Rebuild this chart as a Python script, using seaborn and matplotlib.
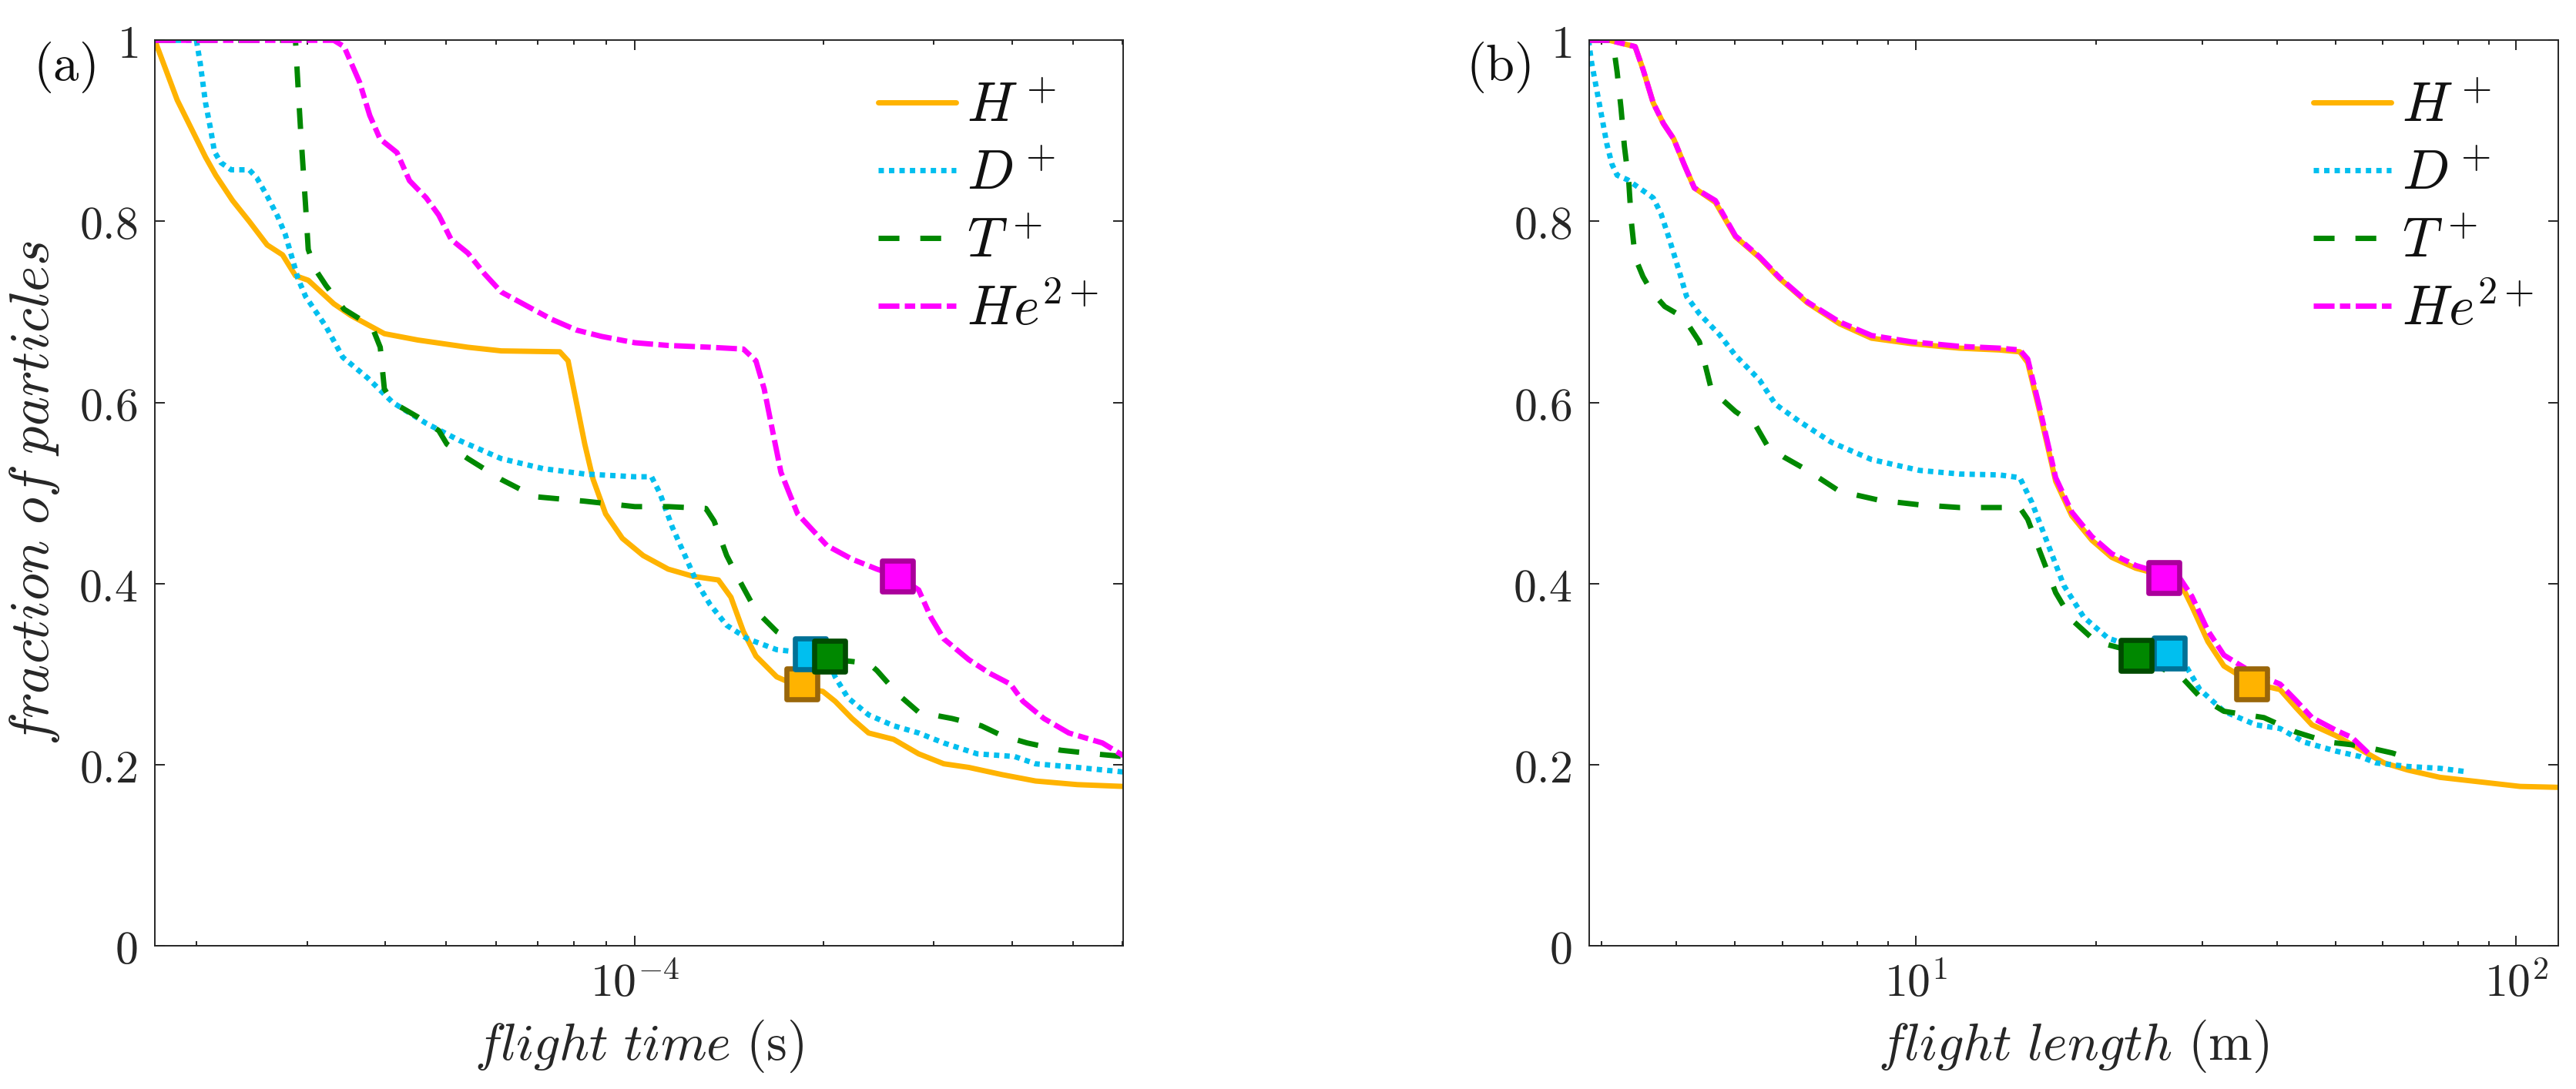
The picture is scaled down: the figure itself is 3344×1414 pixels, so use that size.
import numpy as np
import pandas as pd
import matplotlib
matplotlib.use("Agg")
import matplotlib.pyplot as plt
import seaborn as sns
from matplotlib.ticker import LogLocator, NullFormatter

# ---- (a) fraction of particles vs flight time (s) ----
H_t = [1.715e-5, 1.862e-5, 2.066e-5, 2.145e-5, 2.282e-5, 2.426e-5, 2.591e-5, 2.742e-5, 2.875e-5,
       3.013e-5, 3.310e-5, 3.526e-5, 3.985e-5, 4.505e-5, 5.416e-5, 6.122e-5, 7.591e-5, 7.825e-5,
       8.069e-5, 8.320e-5, 8.579e-5, 8.982e-5, 9.550e-5, 1.031e-4, 1.130e-4, 1.239e-4, 1.359e-4,
       1.423e-4, 1.490e-4, 1.560e-4, 1.684e-4, 1.846e-4, 1.994e-4, 2.087e-4, 2.220e-4, 2.360e-4,
       2.587e-4, 2.836e-4, 3.110e-4, 3.409e-4, 3.854e-4, 4.356e-4, 5.078e-4, 6.012e-4]
H_ft = [1.0, 0.934, 0.871, 0.851, 0.823, 0.800, 0.774, 0.763, 0.740, 0.735, 0.709, 0.696, 0.676,
        0.669, 0.661, 0.657, 0.656, 0.646, 0.600, 0.554, 0.515, 0.477, 0.450, 0.431, 0.416, 0.408,
        0.404, 0.385, 0.347, 0.320, 0.297, 0.285, 0.281, 0.270, 0.251, 0.235, 0.228, 0.212, 0.201,
        0.197, 0.189, 0.182, 0.178, 0.176]

D_t = [1.715e-5, 1.998e-5, 2.027e-5, 2.066e-5, 2.105e-5, 2.135e-5, 2.185e-5, 2.270e-5, 2.426e-5,
       2.495e-5, 2.591e-5, 2.691e-5, 2.768e-5, 2.847e-5, 2.901e-5, 2.984e-5, 3.215e-5, 3.420e-5,
       3.749e-5, 4.110e-5, 4.647e-5, 5.253e-5, 6.122e-5, 7.136e-5, 8.320e-5, 1.0e-4, 1.063e-4,
       1.096e-4, 1.148e-4, 1.202e-4, 1.258e-4, 1.318e-4, 1.401e-4, 1.513e-4, 1.684e-4, 1.846e-4,
       2.025e-4, 2.087e-4, 2.186e-4, 2.360e-4, 2.587e-4, 2.836e-4, 3.110e-4, 3.516e-4, 4.035e-4,
       4.356e-4, 5.078e-4, 6.012e-4]
D_ft = [1.0, 1.0, 0.974, 0.931, 0.902, 0.877, 0.865, 0.857, 0.857, 0.848, 0.828, 0.806, 0.786,
        0.757, 0.737, 0.717, 0.684, 0.650, 0.627, 0.600, 0.577, 0.558, 0.538, 0.527, 0.521, 0.518,
        0.518, 0.500, 0.462, 0.431, 0.400, 0.377, 0.354, 0.339, 0.327, 0.324, 0.320, 0.297, 0.274,
        0.255, 0.243, 0.235, 0.224, 0.212, 0.209, 0.201, 0.197, 0.192]

T_t = [1.715e-5, 2.875e-5, 2.901e-5, 2.929e-5, 2.956e-5, 2.984e-5, 3.013e-5, 3.099e-5, 3.217e-5,
       3.437e-5, 3.807e-5, 3.925e-5, 3.985e-5, 4.110e-5, 4.505e-5, 4.866e-5, 5.014e-5, 5.416e-5,
       6.122e-5, 6.921e-5, 8.320e-5, 1.0e-4, 1.130e-4, 1.298e-4, 1.338e-4, 1.401e-4, 1.467e-4,
       1.560e-4, 1.684e-4, 1.846e-4, 2.025e-4, 2.087e-4, 2.360e-4, 2.433e-4, 2.627e-4, 2.836e-4,
       3.206e-4, 3.569e-4, 3.854e-4, 4.225e-4, 4.776e-4, 5.401e-4, 6.012e-4]
T_ft = [1.0, 1.0, 0.951, 0.902, 0.860, 0.817, 0.769, 0.746, 0.729, 0.703, 0.684, 0.661, 0.615,
        0.600, 0.584, 0.569, 0.554, 0.538, 0.515, 0.496, 0.491, 0.485, 0.485, 0.483, 0.469, 0.431,
        0.404, 0.370, 0.347, 0.331, 0.320, 0.316, 0.312, 0.304, 0.278, 0.258, 0.251, 0.243, 0.232,
        0.224, 0.216, 0.212, 0.209]

He_t = [1.715e-5, 3.310e-5, 3.437e-5, 3.637e-5, 3.777e-5, 3.923e-5, 4.174e-5, 4.370e-5, 4.647e-5,
        4.866e-5, 5.093e-5, 5.416e-5, 5.758e-5, 6.122e-5, 6.711e-5, 7.359e-5, 8.069e-5, 8.846e-5,
        1.0e-4, 1.130e-4, 1.318e-4, 1.490e-4, 1.560e-4, 1.608e-4, 1.658e-4, 1.710e-4, 1.763e-4,
        1.818e-4, 1.904e-4, 2.025e-4, 2.220e-4, 2.433e-4, 2.627e-4, 2.836e-4, 2.970e-4, 3.110e-4,
        3.409e-4, 3.680e-4, 3.973e-4, 4.160e-4, 4.493e-4, 4.924e-4, 5.569e-4, 6.012e-4]
He_ft = [1.0, 1.0, 0.993, 0.954, 0.917, 0.891, 0.876, 0.845, 0.826, 0.807, 0.780, 0.765, 0.742,
         0.722, 0.707, 0.692, 0.680, 0.673, 0.666, 0.663, 0.661, 0.659, 0.646, 0.615, 0.569, 0.523,
         0.500, 0.477, 0.462, 0.442, 0.427, 0.416, 0.408, 0.393, 0.362, 0.339, 0.316, 0.301, 0.289,
         0.270, 0.251, 0.235, 0.224, 0.210]

# ---- (b) fraction of particles vs flight length (m) ----
H_l = [2.854, 3.092, 3.412, 3.516, 3.656, 3.803, 3.956, 4.116, 4.281, 4.642, 5.012, 5.495, 5.934,
       6.607, 7.468, 8.446, 9.848, 11.84, 13.80, 14.91, 15.37, 16.09, 17.11, 18.20, 19.65, 21.21,
       23.26, 25.50, 27.54, 28.84, 30.67, 32.61, 36.31, 40.44, 42.99, 45.71, 50.12, 54.95, 60.26,
       66.07, 74.68, 87.10, 101.5, 117.5]
H_fl = [1.0, 1.0, 0.993, 0.968, 0.931, 0.908, 0.891, 0.863, 0.837, 0.821, 0.783, 0.760, 0.737,
        0.710, 0.687, 0.671, 0.665, 0.660, 0.658, 0.656, 0.644, 0.590, 0.513, 0.475, 0.448, 0.429,
        0.417, 0.410, 0.402, 0.375, 0.336, 0.309, 0.290, 0.283, 0.263, 0.244, 0.232, 0.217, 0.202,
        0.194, 0.186, 0.181, 0.176, 0.175]

D_l = [2.854, 2.886, 2.972, 3.062, 3.122, 3.184, 3.313, 3.516, 3.656, 3.765, 3.879, 4.035, 4.156,
       4.365, 4.713, 5.012, 5.495, 5.843, 6.408, 7.244, 8.446, 10.15, 11.84, 13.80, 14.91, 15.61,
       16.60, 17.65, 19.05, 20.89, 23.26, 26.30, 27.97, 29.74, 32.61, 36.87, 40.44, 44.33, 50.12,
       54.95, 58.44, 66.07, 74.68, 83.18]
D_fl = [1.0, 0.976, 0.931, 0.885, 0.863, 0.851, 0.846, 0.834, 0.826, 0.809, 0.783, 0.746, 0.717,
        0.698, 0.675, 0.652, 0.625, 0.598, 0.579, 0.556, 0.537, 0.525, 0.521, 0.520, 0.517, 0.490,
        0.444, 0.398, 0.363, 0.340, 0.329, 0.325, 0.313, 0.283, 0.259, 0.244, 0.240, 0.225, 0.215,
        0.209, 0.202, 0.198, 0.196, 0.192]

T_l = [2.854, 3.131, 3.184, 3.232, 3.274, 3.330, 3.362, 3.412, 3.516, 3.638, 3.822, 4.105, 4.365,
       4.571, 5.012, 5.412, 5.667, 6.026, 6.607, 7.468, 8.710, 10.15, 11.84, 14.91, 15.37, 16.09,
       17.11, 18.20, 19.95, 21.88, 23.26, 27.97, 29.74, 32.61, 38.02, 42.99, 48.61, 54.95, 62.13,
       67.08]
T_fl = [1.0, 1.0, 0.965, 0.925, 0.883, 0.843, 0.800, 0.760, 0.739, 0.722, 0.706, 0.694, 0.667,
        0.614, 0.590, 0.575, 0.552, 0.540, 0.525, 0.502, 0.492, 0.487, 0.484, 0.484, 0.471, 0.436,
        0.390, 0.360, 0.336, 0.329, 0.321, 0.294, 0.275, 0.259, 0.252, 0.236, 0.225, 0.221, 0.213,
        0.206]

He_l = [2.854, 3.092, 3.412, 3.516, 3.656, 3.803, 3.956, 4.116, 4.281, 4.642, 5.012, 5.495, 5.934,
        6.607, 7.468, 8.446, 9.848, 11.84, 13.80, 14.91, 15.37, 16.09, 17.11, 18.20, 19.65, 21.21,
        23.26, 25.50, 27.54, 28.84, 30.67, 32.61, 36.31, 40.44, 42.99, 45.71, 50.12, 53.30, 56.67]
He_fl = [1.0, 1.0, 0.993, 0.968, 0.931, 0.908, 0.891, 0.863, 0.837, 0.823, 0.784, 0.761, 0.738,
         0.711, 0.689, 0.674, 0.667, 0.662, 0.660, 0.658, 0.648, 0.594, 0.517, 0.479, 0.452, 0.433,
         0.420, 0.412, 0.406, 0.386, 0.348, 0.321, 0.302, 0.289, 0.271, 0.252, 0.238, 0.230, 0.213]

# square markers (one per ion, order H, D, T, He)
mark_t = [1.846e-4, 1.905e-4, 2.044e-4, 2.623e-4]
mark_ft = [0.289, 0.322, 0.320, 0.408]
mark_l = [36.31, 26.47, 23.26, 25.91]
mark_fl = [0.289, 0.323, 0.321, 0.407]

ions = [r"$H^+$", r"$D^+$", r"$T^+$", r"$He^{2+}$"]
colors = ["#FFB300", "#00BFEF", "#008800", "#FF00FF"]
edge_colors = ["#99660A", "#007196", "#004B00", "#AA009B"]
dash_styles = ["", (1.0, 0.95), (3.9, 3.9), (3.9, 1.0, 1.95, 1.0)]

sns.set_theme(style="ticks")
plt.rcParams.update({
    "font.family": ["serif"],
    "font.serif": ["DejaVu Serif"],
    "mathtext.fontset": "cm",
    "axes.edgecolor": "#262626",
    "axes.linewidth": 0.7,
    "xtick.color": "#262626",
    "ytick.color": "#262626",
    "text.color": "#111111",
})


def long_df(xs, ys):
    parts = [pd.DataFrame({"x": x, "frac": y, "ion": name}) for x, y, name in zip(xs, ys, ions)]
    return pd.concat(parts, ignore_index=True)


df_time = long_df([H_t, D_t, T_t, He_t], [H_ft, D_ft, T_ft, He_ft])
df_len = long_df([H_l, D_l, T_l, He_l], [H_fl, D_fl, T_fl, He_fl])

fig = plt.figure(figsize=(16.72, 7.07), dpi=200)
ax1 = fig.add_axes([0.0601, 0.1315, 0.3759, 0.8315])
ax2 = fig.add_axes([0.6169, 0.1315, 0.3762, 0.8315])

panels = [
    (ax1, df_time, mark_t, mark_ft, (1.715e-5, 6.01e-4), [1e-4], [r"$10^{-4}$"],
     r"$flight\ time\ \mathrm{(s)}$", r"$\mathrm{(a)}$"),
    (ax2, df_len, mark_l, mark_fl, (2.86, 117.5), [10, 100], [r"$10^{1}$", r"$10^{2}$"],
     r"$flight\ length\ \mathrm{(m)}$", r"$\mathrm{(b)}$"),
]

for ax, df, mx, my, xlim, xt, xtl, xlab, tag in panels:
    ax.set_xscale("log")
    sns.lineplot(data=df, x="x", y="frac", hue="ion", style="ion", hue_order=ions, style_order=ions,
                 palette=dict(zip(ions, colors)), dashes=dict(zip(ions, dash_styles)),
                 sort=False, estimator=None, linewidth=2.5, legend=False, ax=ax)
    for x0, y0, c, ec in zip(mx, my, colors, edge_colors):
        sns.scatterplot(x=[x0], y=[y0], marker="s", s=210, color=c, edgecolor=ec,
                        linewidth=2.4, zorder=5, legend=False, ax=ax)

    ax.set_xlim(*xlim)
    ax.set_ylim(0, 1)
    ax.set_xticks(xt, labels=xtl)
    ax.xaxis.set_minor_locator(LogLocator(base=10, subs=np.arange(2, 10), numticks=20))
    ax.xaxis.set_minor_formatter(NullFormatter())
    ax.set_yticks([0, 0.2, 0.4, 0.6, 0.8, 1.0],
                  labels=[r"$0$", r"$0.2$", r"$0.4$", r"$0.6$", r"$0.8$", r"$1$"])
    ax.tick_params(which="both", direction="in", top=True, right=True, width=0.7, labelsize=21.5)
    ax.tick_params(which="major", length=4.8)
    ax.tick_params(which="minor", length=2.3)
    ax.tick_params(axis="x", which="major", pad=7)
    ax.tick_params(axis="y", which="major", pad=8)
    for sp in ax.spines.values():
        sp.set_visible(True)

    ax.set_xlabel(xlab, fontsize=24.5, labelpad=6)
    ax.text(-0.094, 0.970, tag, transform=ax.transAxes, ha="center", va="center", fontsize=24)

    ax.legend(ax.lines[:4], ions, loc="upper right", frameon=False, fontsize=26,
              handlelength=1.4, handletextpad=0.2, labelspacing=0.24,
              borderaxespad=0.3, bbox_to_anchor=(1.015, 1.0))

ax1.set_ylabel(r"$fraction\ of\ particles$", fontsize=26, labelpad=8)
ax2.set_ylabel("")

fig.savefig("out.png", dpi=200, facecolor="white")
